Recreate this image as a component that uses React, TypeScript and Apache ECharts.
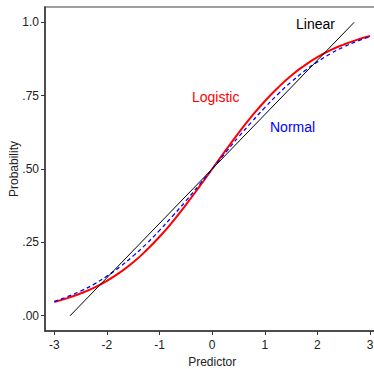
import React, { useEffect, useRef } from "react";
import * as echarts from "echarts";

const xValues = [-3, -2.75, -2.5, -2.25, -2, -1.75, -1.5, -1.25, -1, -0.75, -0.5, -0.25, 0, 0.25, 0.5, 0.75, 1, 1.25, 1.5, 1.75, 2, 2.25, 2.5, 2.75, 3];
const logisticValues = [0.047, 0.06, 0.076, 0.095, 0.119, 0.148, 0.182, 0.223, 0.269, 0.321, 0.378, 0.438, 0.5, 0.562, 0.622, 0.679, 0.731, 0.777, 0.818, 0.852, 0.881, 0.905, 0.924, 0.94, 0.953];
const normalValues = [0.049, 0.065, 0.084, 0.107, 0.135, 0.167, 0.204, 0.245, 0.291, 0.34, 0.391, 0.445, 0.5, 0.555, 0.609, 0.66, 0.709, 0.755, 0.796, 0.833, 0.865, 0.893, 0.916, 0.935, 0.951];
const linearX = [-2.7, 2.7];
const linearY = [0, 1];
const xTicks = [-3, -2, -1, 0, 1, 2, 3];
const yTicks = [0, 0.25, 0.5, 0.75, 1];
const yTickLabels = [".00", ".25", ".50", ".75", "1.0"];
const seriesNames = ["Logistic", "Normal", "Linear"];

const FONT = "Liberation Sans, Arial, Helvetica, sans-serif";

export default function App() {
  const ref = useRef<HTMLDivElement>(null);
  useEffect(() => {
    if (!ref.current) return;
    document.body.style.overflow = "hidden";
    const chart = echarts.init(ref.current, undefined, { renderer: "svg" });
    const axisColor = "#333";
    chart.setOption({
      animation: false,
      grid: {
        left: 45,
        top: 7,
        width: 334.3,
        height: 324,
        show: true,
        borderColor: "#808080",
        borderWidth: 1.5,
        containLabel: false,
        outerBoundsMode: "none",
      },
      xAxis: {
        type: "value",
        min: -3.177,
        max: 3.177,
        name: "Predictor",
        nameLocation: "middle",
        nameGap: 25,
        nameMoveOverlap: false,
        nameTextStyle: { fontFamily: FONT, fontSize: 12, color: "#222" },
        axisLine: { show: true, onZero: false, lineStyle: { color: axisColor, width: 1.5 } },
        axisTick: { show: true, length: 4, customValues: xTicks, lineStyle: { color: axisColor } },
        axisLabel: {
          customValues: xTicks,
          margin: 8,
          fontFamily: FONT,
          fontSize: 12,
          color: "#222",
          formatter: (v: number) => String(v),
        },
        splitLine: { show: false },
      },
      yAxis: {
        type: "value",
        min: -0.052,
        max: 1.052,
        name: "Probability",
        nameLocation: "middle",
        nameGap: 25,
        nameMoveOverlap: false,
        nameTextStyle: { fontFamily: FONT, fontSize: 12, color: "#222" },
        axisLine: { show: true, onZero: false, lineStyle: { color: axisColor, width: 1.5 } },
        axisTick: { show: true, length: 4, customValues: yTicks, lineStyle: { color: axisColor } },
        axisLabel: {
          customValues: yTicks,
          margin: 6,
          fontFamily: FONT,
          fontSize: 12,
          color: "#222",
          formatter: (v: number) => {
            const i = yTicks.findIndex((t) => Math.abs(t - v) < 1e-6);
            return i >= 0 ? yTickLabels[i] : "";
          },
        },
        splitLine: { show: false },
      },
      series: [
        {
          name: seriesNames[0],
          type: "line",
          data: xValues.map((x, i) => [x, logisticValues[i]]),
          smooth: true,
          showSymbol: false,
          lineStyle: { color: "#ff0000", width: 2 },
          z: 2,
        },
        {
          name: seriesNames[1],
          type: "line",
          data: xValues.map((x, i) => [x, normalValues[i]]),
          smooth: true,
          showSymbol: false,
          lineStyle: { color: "#0000ff", width: 1.3, type: [4, 3] },
          z: 3,
        },
        {
          name: seriesNames[2],
          type: "line",
          data: linearX.map((x, i) => [x, linearY[i]]),
          showSymbol: false,
          lineStyle: { color: "#000000", width: 1 },
          z: 4,
        },
      ],
      graphic: [
        {
          type: "text",
          left: 296,
          top: 17,
          style: { text: seriesNames[2], fill: "#000", font: `14px ${FONT}` },
        },
        {
          type: "text",
          left: 192,
          top: 90,
          style: { text: seriesNames[0], fill: "#ff0000", font: `14px ${FONT}` },
        },
        {
          type: "text",
          left: 270,
          top: 120,
          style: { text: seriesNames[1], fill: "#0000ff", font: `14px ${FONT}` },
        },
      ],
    });
    return () => chart.dispose();
  }, []);
  return (
    <div
      ref={ref}
      style={{ position: "absolute", left: 0, top: 0, width: 374, height: 369, background: "#fff" }}
    />
  );
}
